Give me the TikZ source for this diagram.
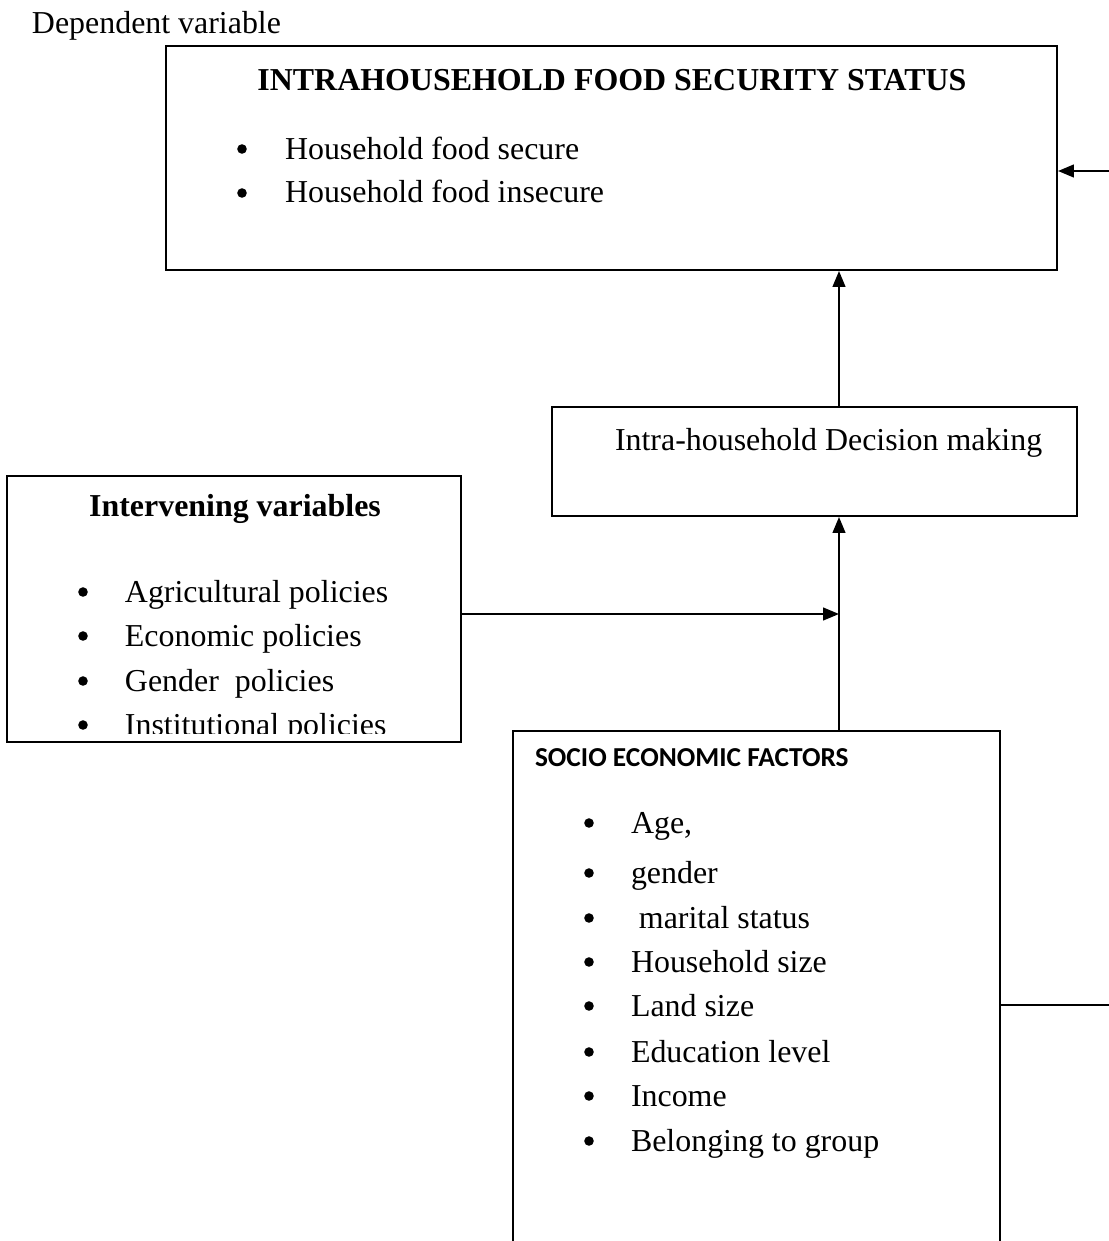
\documentclass[tikz,border=0pt]{standalone}
\usepackage{fontspec}
\setmainfont{Liberation Serif}
\newfontfamily\headfont{Carlito}
\usetikzlibrary{arrows.meta,fit}

\begin{document}
\begin{tikzpicture}[x=0.376pt, y=-0.376pt, line width=0.75pt,
 font=\fontsize{12}{14}\selectfont,
 box/.style={draw, inner sep=0pt},
 txt/.style={inner sep=0pt, anchor=base west},
 head/.style={inner sep=0pt, anchor=base, font=\fontsize{12}{14}\selectfont\bfseries},
 dot/.style={circle, fill, inner sep=0pt, minimum size=3.6pt},
 flow/.style={-{Triangle[length=6pt, width=4.8pt]}}]
 \useasboundingbox (0,0) rectangle (1109,1241);
 \node [txt] (dep) at (31,34) {Dependent variable};
 \node [box, fit={(166,46) (1057,270)}] (status) {};
 \node [box, fit={(552,407) (1077,516)}] (decision) {};
 \node [box, fit={(7,476) (461,742)}] (intervening) {};
 \node [box, fit={(513,731) (1000,1300)}] (socio) {};
 \node [head] (status_title) at (612,91) {INTRAHOUSEHOLD FOOD SECURITY STATUS};
 \foreach \yy/\t in {159/Household food secure, 203/Household food insecure} {
  \node [dot] at (242,\yy-10) {};
  \node [txt] at (284,\yy) {\t};
 }
 \node [txt] (decision_text) at (614,450) {Intra-household Decision making};
 \node [head] (intervening_title) at (235,516) {Intervening variables};
 \begin{scope}
  \clip (7,476) rectangle (461,733);
  \foreach \yy/\t in {602/Agricultural policies, 646/Economic policies, 691/Gender\ \ policies, 735/Institutional policies} {
   \node [dot] at (83,\yy-10) {};
   \node [txt] at (124,\yy) {\t};
  }
 \end{scope}
 \node [txt, font=\headfont\fontsize{10.3}{12}\selectfont\bfseries] (socio_title) at (534,766) {SOCIO ECONOMIC FACTORS};
 \foreach \yy/\t in {833/{Age,}, 883/gender, 928/{\ marital status}, 972/Household size, 1016/Land size, 1062/Education level, 1106/Income, 1151/Belonging to group} {
  \node [dot] at (589,\yy-10) {};
  \node [txt] at (630,\yy) {\t};
 }
 \coordinate (stem) at (839,614);
 \coordinate (rlow) at (1114,1005);
 \coordinate (rup) at (1114,171);
 \draw [flow] (stem |- decision.north) -- (stem |- status.south);
 \draw [flow] (stem |- socio.north) -- (stem |- decision.south);
 \draw [flow] (intervening.east |- stem) -- (stem);
 \draw [flow] (socio.east |- rlow) -- (rlow) -- (rup) -- (status.east |- rup);
\end{tikzpicture}
\end{document}
